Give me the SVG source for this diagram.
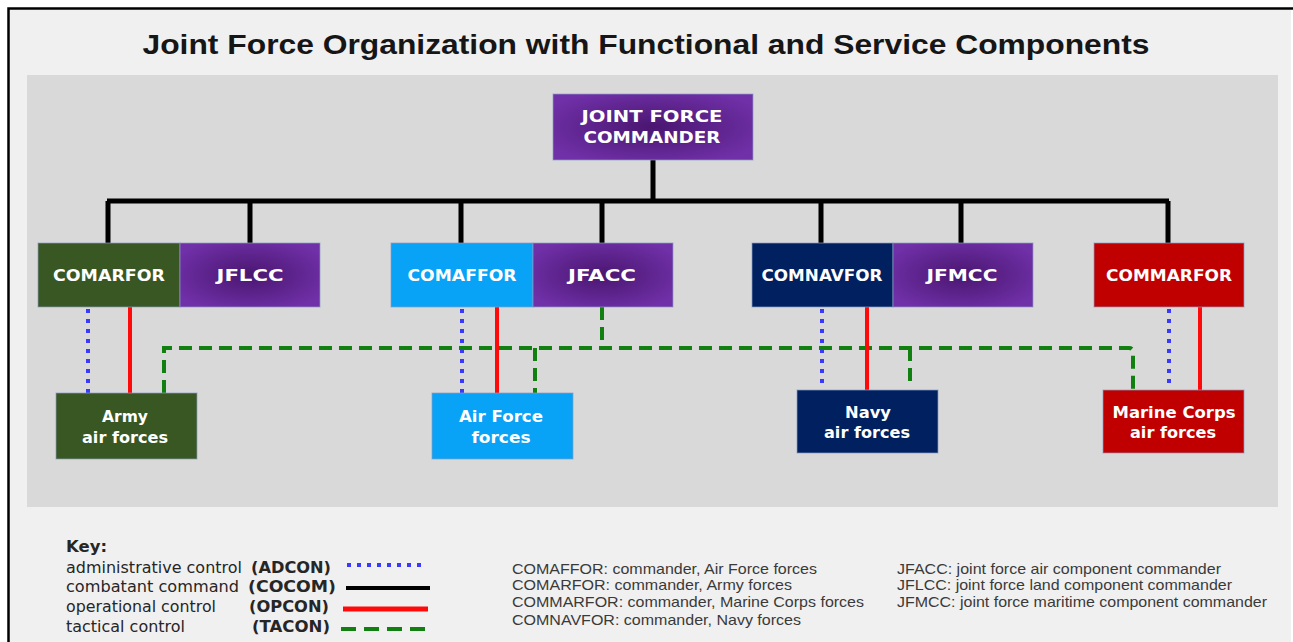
<svg xmlns="http://www.w3.org/2000/svg" width="1293" height="642" viewBox="0 0 1293 642">
<defs>
<radialGradient id="purp" cx="50%" cy="50%" r="60%">
<stop offset="0" stop-color="#4a1670"/>
<stop offset="1" stop-color="#7030a8"/>
</radialGradient>
</defs>
<style>
.box{stroke:#8c9cc4;stroke-opacity:0.7;stroke-width:1}
.nt{font-family:"DejaVu Sans","Liberation Sans",sans-serif;font-weight:bold;font-size:15px;fill:#fff;text-anchor:middle}
.cocom{stroke:#000;stroke-width:5;fill:none}
.adcon{stroke:#3a3aff;stroke-width:4;stroke-dasharray:4 6;fill:none}
.opcon{stroke:#ff0a0a;stroke-width:4;fill:none}
.tacon{stroke:#118011;stroke-width:4;stroke-dasharray:13 7;fill:none}
.key{font-family:"DejaVu Sans","Liberation Sans",sans-serif;font-size:15px;fill:#262626}
.kb{font-weight:bold}
.abbr{font-family:"Liberation Sans",Arial,sans-serif;font-size:15px;fill:#3a3a3a}
</style>
<rect x="0" y="0" width="1293" height="642" fill="#ffffff"/>
<rect x="9" y="9" width="1282" height="633" fill="#f0f0f0"/>
<path d="M8.5,642 V8.5 H1293" stroke="#000" stroke-width="2.5" fill="none"/>
<text x="646" y="54" text-anchor="middle" font-family="Liberation Sans,Arial,sans-serif" font-weight="bold" font-size="28" fill="#161616" textLength="1007" lengthAdjust="spacingAndGlyphs">Joint Force Organization with Functional and Service Components</text>
<rect x="27" y="75" width="1251" height="432" fill="#d9d9d9"/>

<g id="connectors">
<path class="cocom" d="M653,160 V201 M107,201 H1169 M108,201 V243 M250,201 V243 M461,201 V243 M602,201 V243 M821,201 V243 M961,201 V243 M1168,201 V243"/>
<path class="tacon" d="M164,393 V348 H1129 Q1133,348 1133,352 V390"/>
<path class="tacon" d="M602,307 V348 M535,348 V393 M910,348 V387"/>
<path class="adcon" d="M88,309 V393 M462,309 V393 M822,309 V389 M1169,309 V389"/>
<path class="opcon" d="M130,307 V393 M497,307 V393 M867,307 V390 M1200,307 V390"/>
</g>

<g id="jfc">
<rect class="box" x="553" y="94" width="200" height="66" fill="url(#purp)"/>
<text class="nt" x="652" y="122" textLength="141" lengthAdjust="spacingAndGlyphs">JOINT FORCE</text>
<text class="nt" x="652" y="143" textLength="137" lengthAdjust="spacingAndGlyphs">COMMANDER</text>
</g>
<g id="comarfor">
<rect class="box" x="38" y="243" width="142" height="64" fill="#385723"/>
<text class="nt" x="109" y="281" textLength="112" lengthAdjust="spacingAndGlyphs">COMARFOR</text>
</g>
<g id="jflcc">
<rect class="box" x="180" y="243" width="140" height="64" fill="url(#purp)"/>
<text class="nt" x="250" y="281" textLength="67" lengthAdjust="spacingAndGlyphs">JFLCC</text>
</g>
<g id="comaffor">
<rect class="box" x="391" y="243" width="142" height="64" fill="#08a2f6"/>
<text class="nt" x="462" y="281" textLength="109" lengthAdjust="spacingAndGlyphs">COMAFFOR</text>
</g>
<g id="jfacc">
<rect class="box" x="533" y="243" width="140" height="64" fill="url(#purp)"/>
<text class="nt" x="602" y="281" textLength="68" lengthAdjust="spacingAndGlyphs">JFACC</text>
</g>
<g id="comnavfor">
<rect class="box" x="752" y="243" width="141" height="64" fill="#002060"/>
<text class="nt" x="822" y="281" textLength="121" lengthAdjust="spacingAndGlyphs">COMNAVFOR</text>
</g>
<g id="jfmcc">
<rect class="box" x="893" y="243" width="140" height="64" fill="url(#purp)"/>
<text class="nt" x="962" y="281" textLength="71" lengthAdjust="spacingAndGlyphs">JFMCC</text>
</g>
<g id="commarfor">
<rect class="box" x="1094" y="243" width="150" height="64" fill="#c00000"/>
<text class="nt" x="1169" y="281" textLength="126" lengthAdjust="spacingAndGlyphs">COMMARFOR</text>
</g>
<g id="army">
<rect class="box" x="56" y="393" width="141" height="66" fill="#385723"/>
<text class="nt" x="125" y="422" textLength="46" lengthAdjust="spacingAndGlyphs">Army</text>
<text class="nt" x="125" y="443" textLength="86" lengthAdjust="spacingAndGlyphs">air forces</text>
</g>
<g id="airforce">
<rect class="box" x="432" y="393" width="141" height="66" fill="#08a2f6"/>
<text class="nt" x="501" y="422" textLength="84" lengthAdjust="spacingAndGlyphs">Air Force</text>
<text class="nt" x="501" y="443" textLength="59" lengthAdjust="spacingAndGlyphs">forces</text>
</g>
<g id="navy">
<rect class="box" x="797" y="390" width="141" height="63" fill="#002060"/>
<text class="nt" x="868" y="418" textLength="46" lengthAdjust="spacingAndGlyphs">Navy</text>
<text class="nt" x="867" y="438" textLength="86" lengthAdjust="spacingAndGlyphs">air forces</text>
</g>
<g id="marine">
<rect class="box" x="1103" y="390" width="141" height="63" fill="#c00000"/>
<text class="nt" x="1174" y="418" textLength="123" lengthAdjust="spacingAndGlyphs">Marine Corps</text>
<text class="nt" x="1173" y="438" textLength="86" lengthAdjust="spacingAndGlyphs">air forces</text>
</g>

<g id="key">
<text class="key kb" x="66" y="552" textLength="41" lengthAdjust="spacingAndGlyphs">Key:</text>
<text class="key" x="66" y="573" textLength="176" lengthAdjust="spacingAndGlyphs">administrative control</text>
<text class="key kb" x="251" y="573" textLength="80" lengthAdjust="spacingAndGlyphs">(ADCON)</text>
<text class="key" x="66" y="592" textLength="173" lengthAdjust="spacingAndGlyphs">combatant command</text>
<text class="key kb" x="248" y="592" textLength="88" lengthAdjust="spacingAndGlyphs">(COCOM)</text>
<text class="key" x="66" y="612" textLength="150" lengthAdjust="spacingAndGlyphs">operational control</text>
<text class="key kb" x="249" y="612" textLength="80" lengthAdjust="spacingAndGlyphs">(OPCON)</text>
<text class="key" x="66" y="632" textLength="119" lengthAdjust="spacingAndGlyphs">tactical control</text>
<text class="key kb" x="252" y="632" textLength="78" lengthAdjust="spacingAndGlyphs">(TACON)</text>
<path class="adcon" d="M347,565 H427"/>
<path class="cocom" d="M346,588 H430" style="stroke-width:4"/>
<path class="opcon" d="M343,609 H428" style="stroke-width:5"/>
<path class="tacon" d="M341,629 H428" style="stroke-dasharray:15 8"/>
</g>

<g id="abbreviations">
<text class="abbr" x="512" y="574" textLength="305" lengthAdjust="spacingAndGlyphs">COMAFFOR:  commander, Air Force forces</text>
<text class="abbr" x="512" y="590" textLength="280" lengthAdjust="spacingAndGlyphs">COMARFOR:  commander, Army forces</text>
<text class="abbr" x="512" y="607" textLength="352" lengthAdjust="spacingAndGlyphs">COMMARFOR:  commander, Marine Corps forces</text>
<text class="abbr" x="512" y="625" textLength="289" lengthAdjust="spacingAndGlyphs">COMNAVFOR:  commander, Navy forces</text>
<text class="abbr" x="897" y="574" textLength="324" lengthAdjust="spacingAndGlyphs">JFACC: joint force air component commander</text>
<text class="abbr" x="897" y="590" textLength="335" lengthAdjust="spacingAndGlyphs">JFLCC: joint force land component commander</text>
<text class="abbr" x="897" y="607" textLength="370" lengthAdjust="spacingAndGlyphs">JFMCC: joint force maritime component commander</text>
</g>
</svg>
